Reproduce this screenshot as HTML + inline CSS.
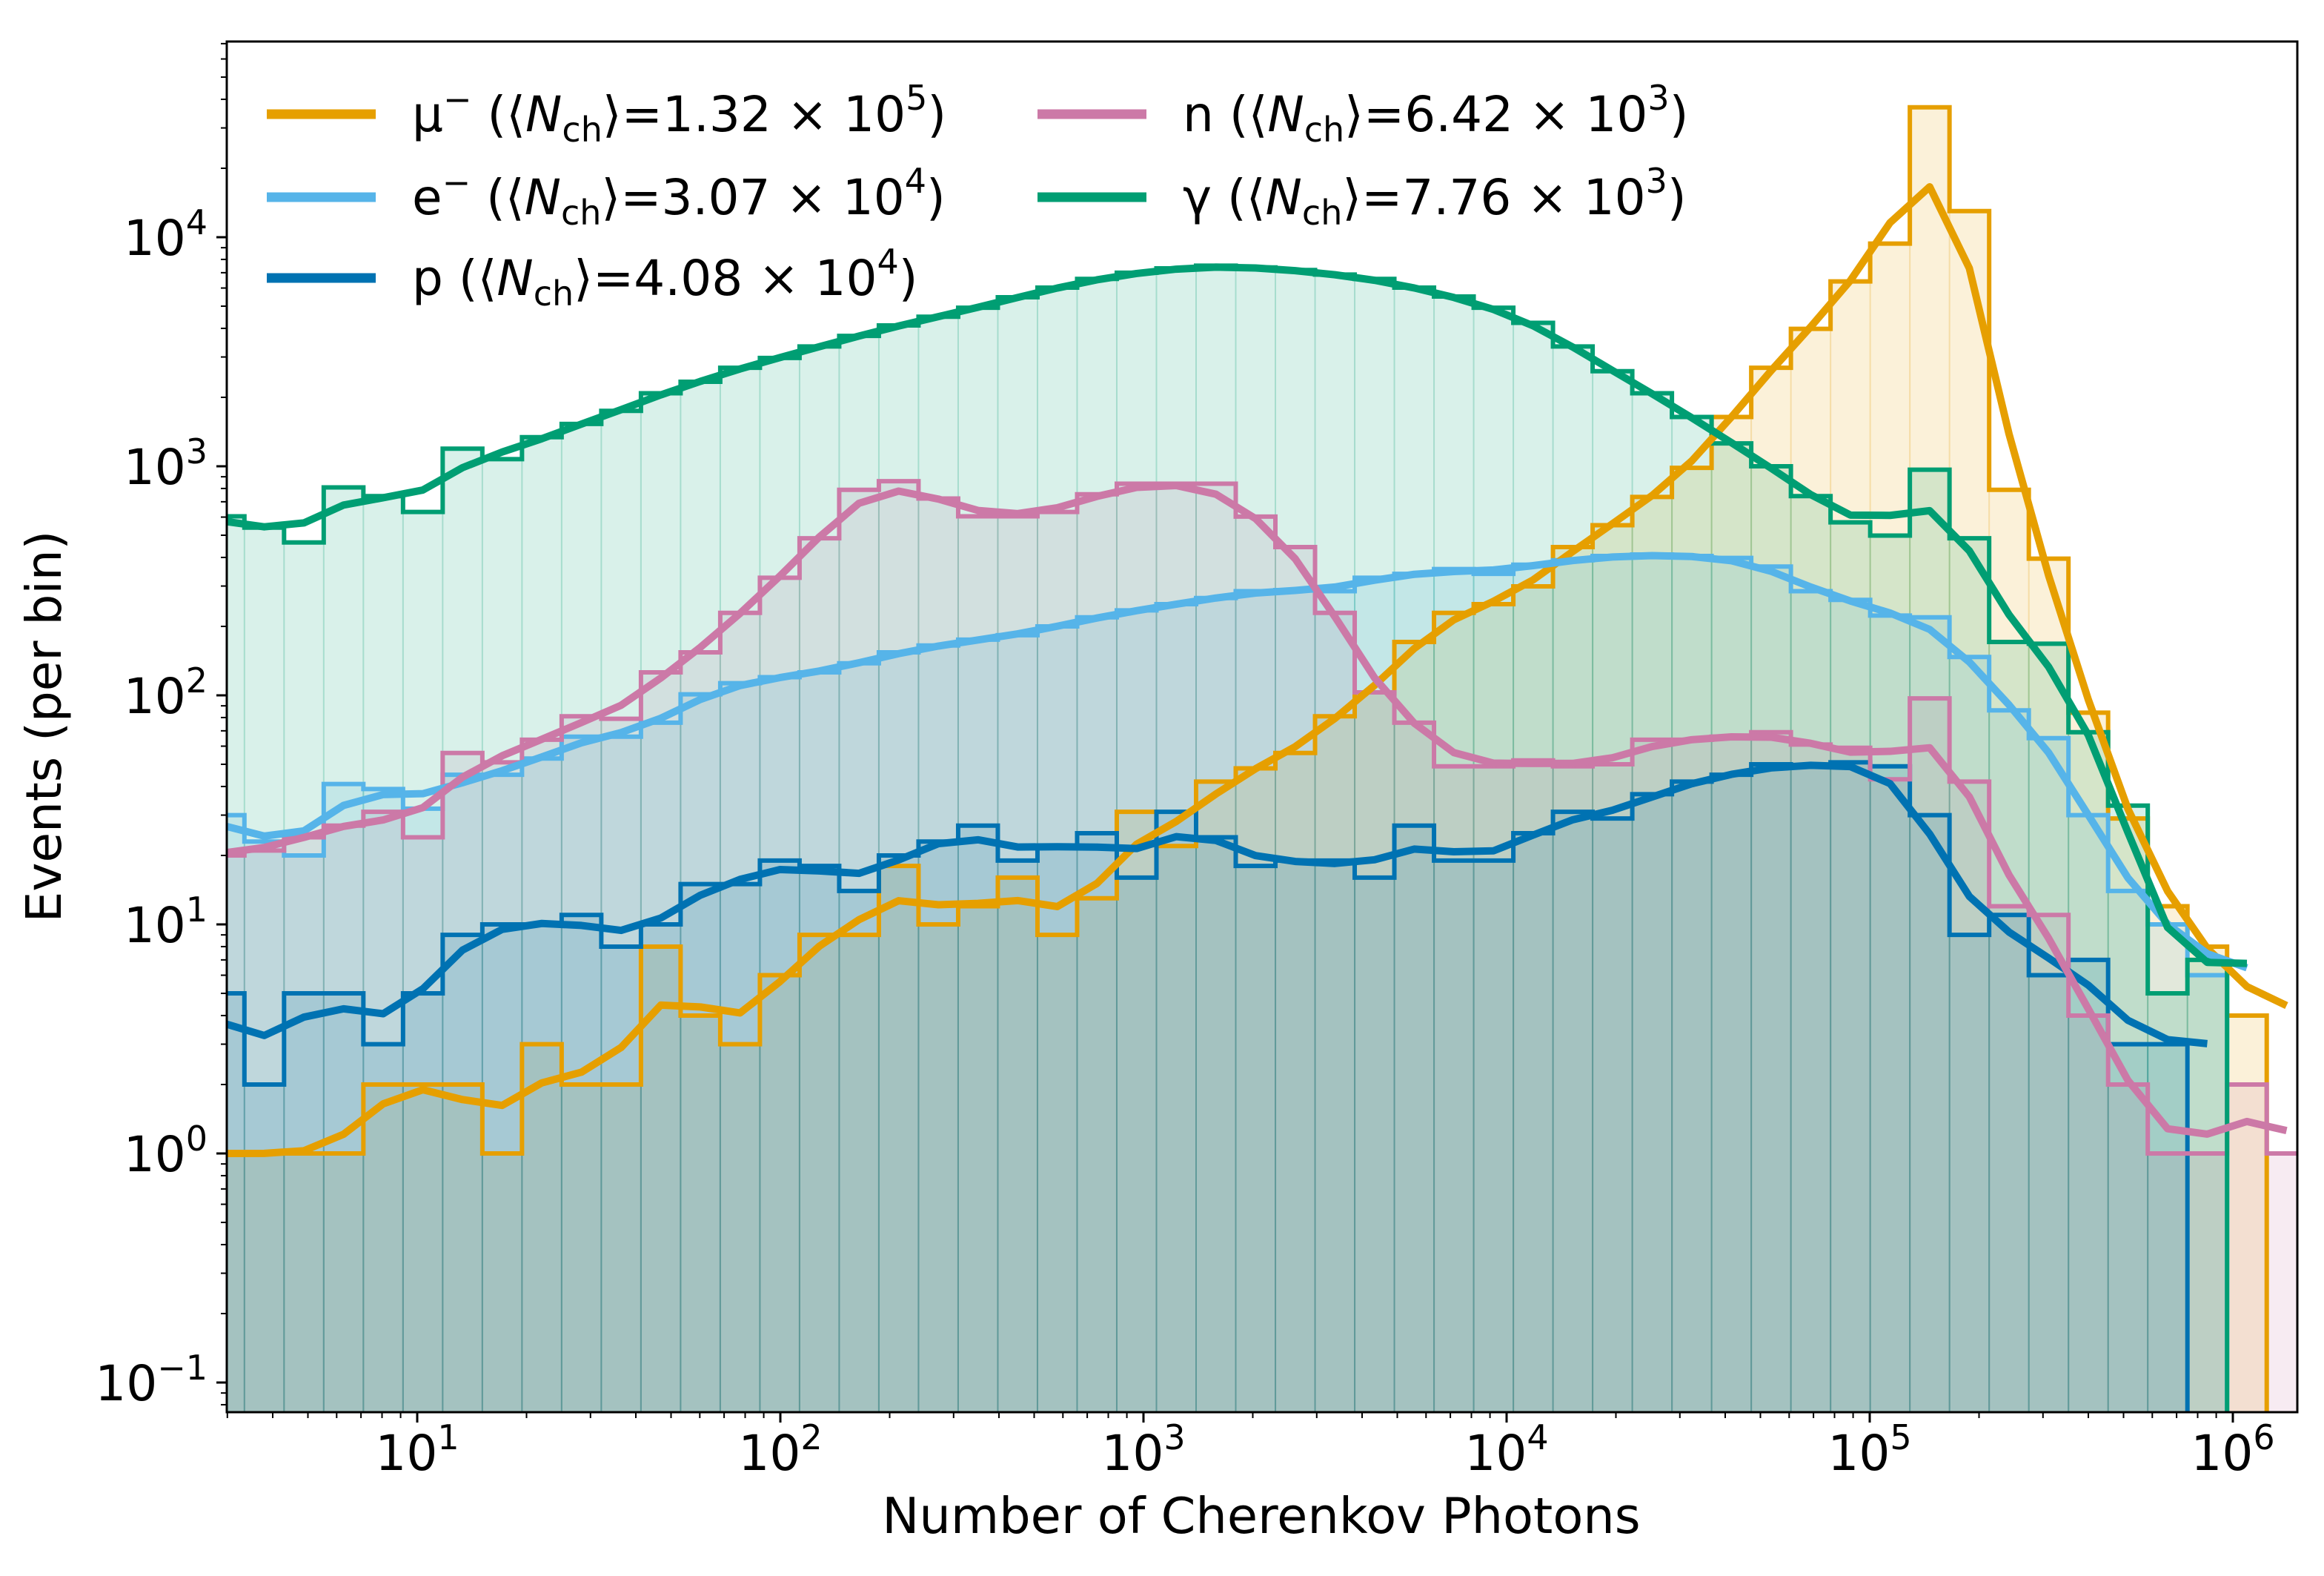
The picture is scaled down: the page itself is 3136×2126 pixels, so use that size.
<!DOCTYPE html>
<html><head><meta charset="utf-8">
<style>
html,body{margin:0;padding:0;background:#fff;}
svg{display:block;font-family:"DejaVu Sans","Liberation Sans",sans-serif;}
</style></head>
<body>
<svg id="chart" xmlns="http://www.w3.org/2000/svg" width="3136" height="2126" viewBox="0 0 3136 2126">
<defs><clipPath id="plotclip"><rect x="306" y="56" width="2794" height="1849"/></clipPath></defs>
<rect x="0" y="0" width="3136" height="2126" fill="#fff"/>
<g id="fills" clip-path="url(#plotclip)"></g>
<g id="steps" clip-path="url(#plotclip)"></g>
<g id="smooth" clip-path="url(#plotclip)"></g>
<g id="axes"></g>
<g id="legend"></g>
</svg>
<script>
// ---- data ----
const binStartLog = 0.4149;
const binWidthLog = 0.1092;
const muCounts = [1,1,1,1,2,2,2,1,3,2,2,8,4,3,6,9,9,18,10,12,16,9,13,31,22,42,48,56,81,103,171,229,250,299,444,553,735,984,1641,2692,3981,6412,9376,36900,13000,789,395,84,29,12,8,4,0];
const eCounts = [30,23,20,41,39,32,45,45,53,66,66,76,101,113,120,126,138,154,165,175,183,200,219,235,250,266,285,288,285,326,339,356,339,372,389,406,412,406,398,365,285,261,223,219,147,86,65,30,14,10,6,0,0];
const pCounts = [5,2,5,5,3,5,9,10,10,11,8,10,15,15,19,18,14,20,23,27,19,22,25,16,31,24,18,19,19,16,27,19,19,25,31,29,37,42,45,50,49,51,49,30,9,11,6,7,3,3,0,0,0];
const nCounts = [20,21,24,27,31,24,56,51,64,81,79,126,154,229,326,485,789,861,723,605,605,632,755,839,839,839,603,444,229,103,76,49,49,52,49,50,64,64,66,69,61,59,43,97,42,12,11,4,2,1,1,2,1];
const gCounts = [605,540,465,809,741,632,1194,1074,1340,1531,1746,2084,2339,2692,2972,3334,3707,4121,4498,4920,5470,6026,6577,6998,7311,7516,7379,7194,6871,6577,6026,5508,4920,4227,3334,2600,2084,1641,1259,1000,741,569,498,966,485,171,168,69,33,5,7,0,0];
const xTickExps = [1,2,3,4,5,6];
const yTickExps = [-1,0,1,2,3,4];

// ---- axes ----
const X0=563, XD=490, Y0=1556, YD=309, PL=306, PR=3100, PT=56, PB=1905;
function xs(lg){return X0+XD*(lg-1);}
function ys(v){ if(v<=0) return PB+40; return Y0-YD*Math.log10(v);}
const NS='http://www.w3.org/2000/svg';
function el(tag,attrs,parent){const e=document.createElementNS(NS,tag);for(const k in attrs)e.setAttribute(k,attrs[k]);parent.appendChild(e);return e;}

const series=[
 {key:'mu',counts:muCounts,color:'#E69F00'},
 {key:'electron',counts:eCounts,color:'#56B4E9'},
 {key:'proton',counts:pCounts,color:'#0072B2'},
 {key:'neutron',counts:nCounts,color:'#CC79A7'},
 {key:'gamma',counts:gCounts,color:'#009E73'}
];
const fills=document.getElementById('fills'),steps=document.getElementById('steps'),smooth=document.getElementById('smooth');
series.forEach(s=>{
  const g=el('g',{},fills);
  
  
  s.counts.forEach((c,i)=>{
    if(c<=0) return;
    const xa=xs(binStartLog+binWidthLog*i), xb=xs(binStartLog+binWidthLog*(i+1));
    const r=el('rect',{x:xa,y:ys(c),width:xb-xa,height:PB+20-ys(c),fill:s.color,'fill-opacity':0.15,stroke:s.color,'stroke-opacity':0.12,'stroke-width':2},g);
    
    
  });
});
series.forEach(s=>{
  let d='M'+xs(binStartLog)+','+(PB+40);
  s.counts.forEach((c,i)=>{
    const xa=xs(binStartLog+binWidthLog*i), xb=xs(binStartLog+binWidthLog*(i+1));
    const y=ys(c);
    d+=' L'+xa+','+y+' L'+xb+','+y;
  });
  d+=' L'+xs(binStartLog+binWidthLog*s.counts.length)+','+(PB+40);
  const p=el('path',{d:d,fill:'none',stroke:s.color,'stroke-width':6,'stroke-linejoin':'miter'},steps);
  
  
});
series.forEach(s=>{
  const c=s.counts; let last=-1;
  c.forEach((v,i)=>{if(v>0)last=i;});
  const end=Math.min(c.length-1,last+1);
  const pts=[];
  for(let i=0;i<=end;i++){
    let sw=0,sv=0;
    for(let j=Math.max(0,i-4);j<=Math.min(c.length-1,i+4);j++){
      if(c[j]<=0) continue;
      const w=Math.exp(-0.5*((i-j)/0.9)**2);
      sw+=w; sv+=w*Math.log10(c[j]);
    }
    if(sw>0) pts.push([xs(binStartLog+binWidthLog*(i+0.5)), Y0-YD*(sv/sw)]);
  }
  const p=el('polyline',{points:pts.map(q=>q.join(',')).join(' '),fill:'none',stroke:s.color,'stroke-width':10,'stroke-linejoin':'round'},smooth);
  
  
});

// axes frame & ticks
const ax=document.getElementById('axes');
const frame=el('rect',{x:PL,y:PT,width:PR-PL,height:PB-PT,fill:'none',stroke:'#000','stroke-width':3},ax);


for(let e=0;e<=6;e++){
  for(let m=1;m<=9;m++){
    const lg=e+Math.log10(m); const x=xs(lg);
    if(x<PL||x>PR) continue;
    const t=el('line',{x1:x,x2:x,y1:PB,y2:PB+(m===1?14:8),stroke:'#000','stroke-width':m===1?3:2},ax);
    
    
  }
}
for(let e=-2;e<=4;e++){
  for(let m=1;m<=9;m++){
    const y=Y0-YD*(e+Math.log10(m));
    if(y<PT||y>PB) continue;
    const t=el('line',{x1:PL,x2:PL-(m===1?14:8),y1:y,y2:y,stroke:'#000','stroke-width':m===1?3:2},ax);
    
    
  }
}
xTickExps.forEach(e=>{
  const t=el('text',{x:xs(e),y:1983,'font-size':66,'text-anchor':'middle',fill:'#000'},ax);
  
  
  t.textContent='10';
  const sp=el('tspan',{'font-size':46,dy:-28},t); sp.textContent=String(e);
});
yTickExps.forEach(e=>{
  const y=Y0-YD*e;
  const t=el('text',{x:280,y:y+24,'font-size':66,'text-anchor':'end',fill:'#000'},ax);
  
  
  t.textContent='10';
  const sp=el('tspan',{'font-size':46,dy:-28},t); sp.textContent=(e<0?'\u2212':'')+Math.abs(e);
});
const xl=el('text',{x:1702,y:2068,'font-size':67,'text-anchor':'middle',fill:'#000'},ax);


xl.textContent='Number of Cherenkov Photons';
const yl=el('text',{x:0,y:0,'font-size':66,'text-anchor':'middle',fill:'#000',transform:'translate(82,980) rotate(-90)'},ax);


yl.textContent='Events (per bin)';

// legend
const lg=document.getElementById('legend');
const legendItems=[
 {sym:'\u03bc',sup:'\u2212',val:'1.32',exp:'5',color:'#E69F00',lx:360,tx:556,y:154},
 {sym:'e',sup:'\u2212',val:'3.07',exp:'4',color:'#56B4E9',lx:360,tx:556,y:266},
 {sym:'p',sup:'',val:'4.08',exp:'4',color:'#0072B2',lx:360,tx:556,y:375},
 {sym:'n',sup:'',val:'6.42',exp:'3',color:'#CC79A7',lx:1400,tx:1596,y:154},
 {sym:'\u03b3',sup:'',val:'7.76',exp:'3',color:'#009E73',lx:1400,tx:1596,y:266}
];
legendItems.forEach(it=>{
  const g=el('g',{},lg);
  
  
  el('line',{x1:it.lx,x2:it.lx+147,y1:it.y,y2:it.y,stroke:it.color,'stroke-width':13},g);
  const t=el('text',{x:it.tx,y:it.y+23,'font-size':66,fill:'#000'},g);
  const a=el('tspan',{},t); a.textContent=it.sym;
  if(it.sup){const b=el('tspan',{'font-size':46,dy:-27},t); b.textContent=it.sup; const c=el('tspan',{dy:27},t); c.textContent=' (\u27e8';}
  else{const c=el('tspan',{},t); c.textContent=' (\u27e8';}
  const n=el('tspan',{'font-style':'italic'},t); n.textContent='N';
  const ch=el('tspan',{'font-size':46,dy:14},t); ch.textContent='ch';
  const r=el('tspan',{dy:-14},t); r.textContent='\u27e9='+it.val+' \u00d7 10';
  const ex=el('tspan',{'font-size':46,dy:-29},t); ex.textContent=it.exp;
  const cl=el('tspan',{dy:29},t); cl.textContent=')';
});
</script>
</body></html>
